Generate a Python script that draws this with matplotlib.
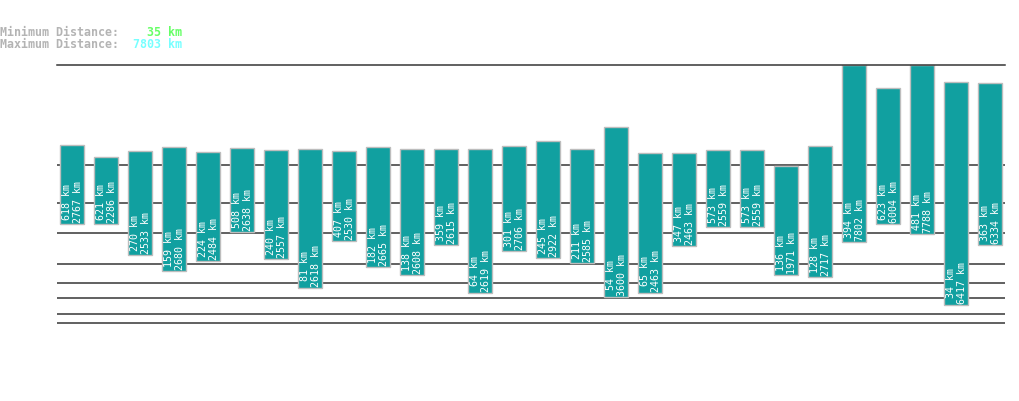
"""
Floating distance bars (min..max per group) on a power-scaled y axis.
"""

import matplotlib
matplotlib.use("Agg")
import matplotlib.pyplot as plt
import numpy as np


# ---------------------------------------------------------------------------
# Data
# ---------------------------------------------------------------------------

min_km = [618, 621, 270, 159, 224, 508, 240, 81, 407, 182, 138, 359, 64, 301,
          245, 211, 54, 65, 347, 573, 573, 136, 128, 394, 623, 481, 34, 363]
max_km = [2767, 2286, 2533, 2680, 2484, 2638, 2557, 2618, 2530, 2665, 2608,
          2615, 2619, 2706, 2922, 2585, 3600, 2463, 2463, 2559, 2559, 1971,
          2717, 7802, 6004, 7788, 6417, 6334]
grid_km = [10, 20, 50, 100, 200, 500, 1000, 2000]

header_min = "35 km"
header_max = "7803 km"

EXP = 0.301


def _fwd(v):
    v = np.asarray(v, dtype=float)
    return np.sign(v) * np.abs(v) ** EXP


def _inv(v):
    v = np.asarray(v, dtype=float)
    return np.sign(v) * np.abs(v) ** (1.0 / EXP)


# ---------------------------------------------------------------------------
# Figure
# ---------------------------------------------------------------------------

W, H = 1019, 402
fig = plt.figure(figsize=(W / 100, H / 100), dpi=100)
fig.patch.set_facecolor("white")

left, right = 57, 1005
top, bottom = 66, 364.4
ax = fig.add_axes([left / W, (H - bottom) / H, (right - left) / W, (bottom - top) / H])
ax.set_yscale("function", functions=(_fwd, _inv))

x = np.arange(len(min_km))
heights = np.array(max_km) - np.array(min_km)

for g in grid_km:
    ax.axhline(g, color="#363636", lw=1.1, zorder=1)

ax.bar(x, heights, bottom=min_km, width=0.706, color="#11a0a0",
       edgecolor="#bdbdbd", linewidth=1.0, zorder=2)

for xi, lo, hi in zip(x, min_km, max_km):
    ax.annotate(f"{lo} km\n{hi} km", (xi, lo), xytext=(0, 1.5),
                textcoords="offset points", rotation=90, ha="center",
                va="bottom", color="white", fontsize=7.2,
                family="DejaVu Sans Mono", linespacing=1.1, zorder=3)

ax.set_xlim((left - 72.3) / 34, (right - 72.3) / 34)
ax.set_ylim(0, max(max_km))
for side in ("left", "right", "bottom"):
    ax.spines[side].set_visible(False)
ax.spines["top"].set_color("#363636")
ax.spines["top"].set_linewidth(1.1)
ax.set_xticks([])
ax.set_yticks([])
ax.minorticks_off()
ax.patch.set_alpha(0)

# ---- header -----------------------------------------------------------------
mono = dict(family="DejaVu Sans Mono", fontsize=8.4, va="center", fontweight="bold")
fig.text(0, 1 - 32 / H, "Minimum Distance:", color="#b4b4b4", ha="left", **mono)
fig.text(0, 1 - 44 / H, "Maximum Distance:", color="#b4b4b4", ha="left", **mono)
fig.text(182 / W, 1 - 32 / H, header_min, color="#66ff66", ha="right", **mono)
fig.text(182 / W, 1 - 44 / H, header_max, color="#77ffff", ha="right", **mono)

fig.savefig("out.png", dpi=100)
plt.close(fig)
